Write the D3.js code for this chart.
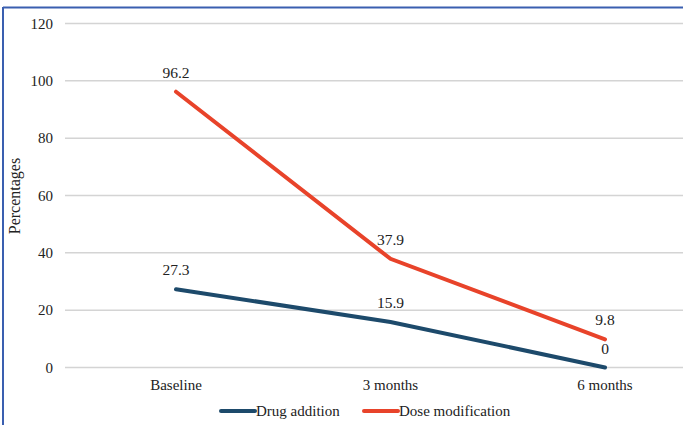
<!DOCTYPE html>
<html><head><meta charset="utf-8">
<script src="https://cdn.jsdelivr.net/npm/d3@7"></script>
<style>body{margin:0;background:#fff}svg{display:block}text{font-family:"Liberation Serif","Times New Roman",serif;fill:#222}</style>
</head><body><svg id="c" width="683" height="425"></svg>
<script>
const categories = ["Baseline", "3 months", "6 months"];
const drugAddition = [27.3, 15.9, 0];
const doseModification = [96.2, 37.9, 9.8];
const yTicks = [0, 20, 40, 60, 80, 100, 120];
const seriesNames = ["Drug addition", "Dose modification"];
const colors = ["#1d4a6b", "#e8432a"];

const svg = d3.select("#c");
// border
svg.append("line").attr("x1",3).attr("x2",683).attr("y1",7.5).attr("y2",7.5).attr("stroke","#3a5fb0").attr("stroke-width",2);
svg.append("line").attr("x1",3).attr("x2",3).attr("y1",7).attr("y2",425).attr("stroke","#3a5fb0").attr("stroke-width",2);

const x = d3.scalePoint().domain(categories).range([176, 605]);
const y = d3.scaleLinear().domain([0,120]).range([367.5, 23.5]);

const grid = svg.append("g");
yTicks.forEach(t=>{
  grid.append("line").attr("x1",65).attr("x2",683).attr("y1",y(t)).attr("y2",y(t)).attr("stroke","#d4d4d4").attr("stroke-width",1.5);
  grid.append("text").attr("x",53).attr("y",y(t)).attr("dy","0.35em").attr("text-anchor","end").attr("font-size",15).text(t);
});
categories.forEach(c=>{
  svg.append("text").attr("x",x(c)).attr("y",390).attr("text-anchor","middle").attr("font-size",15).text(c);
});
svg.append("text").attr("transform","translate(20,196) rotate(-90)").attr("text-anchor","middle").attr("font-size",16).text("Percentages");

const line = d3.line().x((d,i)=>x(categories[i])).y(d=>y(d));
[drugAddition, doseModification].forEach((s,k)=>{
  svg.append("path").datum(s).attr("d",line).attr("fill","none").attr("stroke",colors[k]).attr("stroke-width",4).attr("stroke-linecap","round");
  s.forEach((v,i)=>{
    svg.append("text").attr("x",x(categories[i])).attr("y",y(v)-14).attr("text-anchor","middle").attr("font-size",15.5).text(v);
  });
});

// legend
const leg = [{x:221},{x:364}];
seriesNames.forEach((n,k)=>{
  svg.append("line").attr("x1",leg[k].x).attr("x2",leg[k].x+34).attr("y1",411).attr("y2",411).attr("stroke",colors[k]).attr("stroke-width",4).attr("stroke-linecap","round");
  svg.append("text").attr("x",leg[k].x+35).attr("y",411).attr("dy","0.35em").attr("font-size",15).text(n);
});
</script></body></html>
